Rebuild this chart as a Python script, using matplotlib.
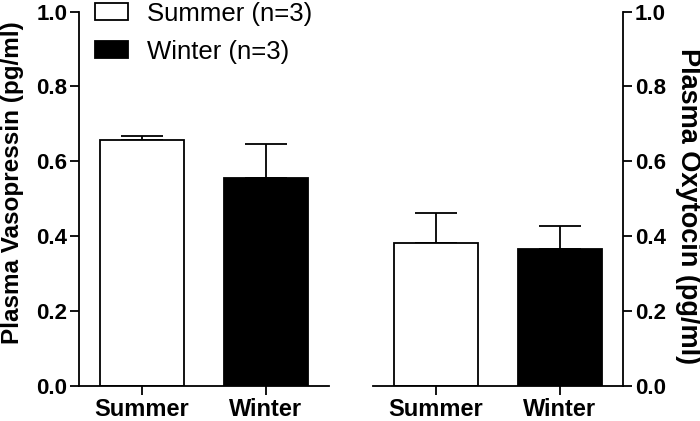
import matplotlib
matplotlib.use("Agg")
import matplotlib.pyplot as plt
from matplotlib.patches import Patch

plt.rcParams['font.family'] = ['Liberation Sans', 'DejaVu Sans']

categories = ["Summer", "Winter"]
vp_mean = [0.657, 0.556]
vp_err = [0.011, 0.090]
ot_mean = [0.381, 0.366]
ot_err = [0.080, 0.060]
yticks = [0.0, 0.2, 0.4, 0.6, 0.8, 1.0]
legend_labels = ["Summer (n=3)", "Winter (n=3)"]
colors = ["white", "black"]

W, H = 700, 421
fig = plt.figure(figsize=(W / 100, H / 100), dpi=100)

def px_axes(x0, x1, ytop, ybot):
    return fig.add_axes([x0 / W, 1 - ybot / H, (x1 - x0) / W, (ybot - ytop) / H])

ax1 = px_axes(79, 329, 11.5, 386)
ax2 = px_axes(373, 623, 11.5, 386)

lw = 1.3
x = [0, 1]
for ax, means, errs in [(ax1, vp_mean, vp_err), (ax2, ot_mean, ot_err)]:
    ax.bar(x, means, width=0.67, color=colors, edgecolor="black", linewidth=lw, zorder=2)
    ax.errorbar(x, means, yerr=[[0, 0], errs], fmt="none", ecolor="black",
                elinewidth=lw, capsize=15, capthick=lw, zorder=1)
    ax.set_xlim(-0.508, 1.508)
    ax.set_ylim(0, 1.0)
    ax.set_xticks(x)
    ax.set_xticklabels(categories, fontsize=17, fontweight="bold")
    ax.set_yticks(yticks)
    ax.set_yticklabels([f"{t:.1f}" for t in yticks], fontsize=16, fontweight="bold")
    ax.tick_params(axis="both", length=6.5, width=lw, pad=2)
    ax.tick_params(axis="x", pad=2)
    for s in ax.spines.values():
        s.set_linewidth(lw)
    ax.spines["top"].set_visible(False)

ax1.spines["right"].set_visible(False)
ax2.spines["left"].set_visible(False)
ax2.yaxis.tick_right()

fig.text(13 / W, 1 - 183 / H, "Plasma Vasopressin (pg/ml)", rotation=90,
         ha="center", va="center", fontsize=17.5, fontweight="bold")
fig.text(688 / W, 1 - 206 / H, "Plasma Oxytocin (pg/ml)", rotation=270,
         ha="center", va="center", fontsize=19.5, fontweight="bold")

handles = [Patch(facecolor=c, edgecolor="black", linewidth=lw) for c in colors]
fig.legend(handles, legend_labels, loc="upper left",
           bbox_to_anchor=(95 / W, 1 - 1.5 / H), frameon=False, fontsize=18.5,
           handlelength=1.28, handleheight=0.62, handletextpad=0.75,
           labelspacing=0.55, borderpad=0, borderaxespad=0)

fig.savefig("out.png", dpi=100)
